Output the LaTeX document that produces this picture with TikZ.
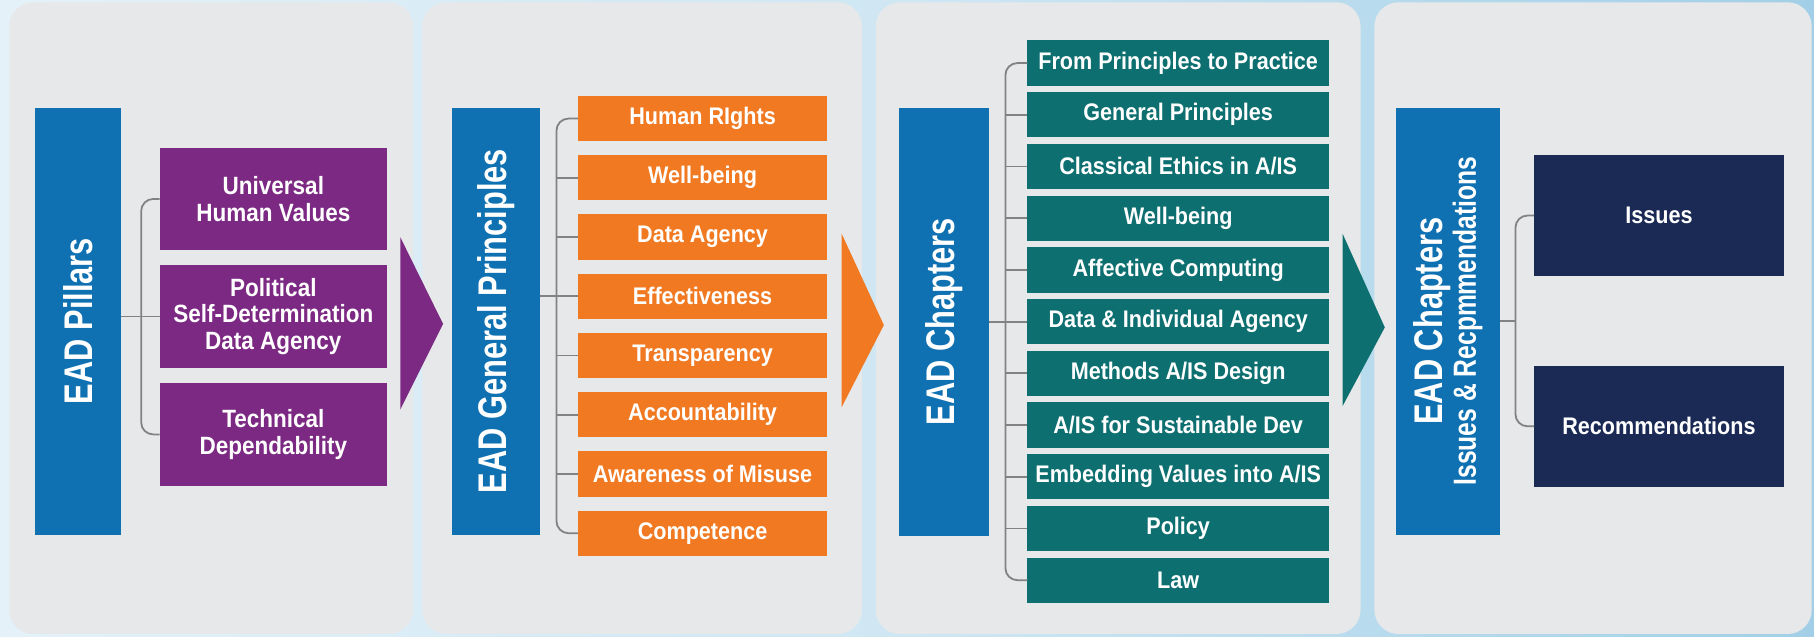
\documentclass[tikz,border=0pt]{standalone}
\usepackage{fontspec}
\setmainfont{Liberation Sans}
\newfontfamily\boxfont[FakeStretch=0.9]{Liberation Sans}
\newfontfamily\condfont[FakeStretch=0.77]{Liberation Sans}
\usetikzlibrary{calc}
\definecolor{bgL}{HTML}{E4F1F8}
\definecolor{bgM}{HTML}{CFE7F3}
\definecolor{bgR}{HTML}{A2CFE7}
\definecolor{panelc}{HTML}{E7E8EA}
\definecolor{bluec}{HTML}{0F71B1}
\definecolor{purplec}{HTML}{7B2982}
\definecolor{orangec}{HTML}{F07922}
\definecolor{tealc}{HTML}{0E6F70}
\definecolor{navyc}{HTML}{1A2A54}
\definecolor{linec}{HTML}{828282}
\begin{document}
\begin{tikzpicture}[x=0.5785pt,y=-0.5785pt,
  panel/.style={fill=panelc,rounded corners=12pt},
  label/.style={fill=bluec,text=white,rotate=90,inner sep=0pt,outer sep=0pt,
    font=\condfont\bfseries\fontsize{20}{22}\selectfont},
  pbox/.style={fill=purplec,text=white,inner sep=0pt,outer sep=0pt,align=center,
    minimum width=113.7pt,minimum height=51.2pt,
    font=\boxfont\bfseries\fontsize{12.5}{13.4}\selectfont},
  obox/.style={fill=orangec,text=white,inner sep=0pt,outer sep=0pt,
    minimum width=124.6pt,minimum height=22.6pt,
    font=\boxfont\bfseries\fontsize{12}{13}\selectfont},
  tbox/.style={fill=tealc,text=white,inner sep=0pt,outer sep=0pt,
    minimum width=150.8pt,minimum height=22.6pt,
    font=\boxfont\bfseries\fontsize{12}{13}\selectfont},
  nbox/.style={fill=navyc,text=white,inner sep=0pt,outer sep=0pt,
    minimum width=125pt,minimum height=60.2pt,
    font=\boxfont\bfseries\fontsize{12}{13}\selectfont},
  brk/.style={draw=linec,line width=0.9pt},
  tri/.style={draw=none}
]
\useasboundingbox (0,0) rectangle (1568,550);
\shade[left color=bgL,right color=bgR,middle color=bgM] (0,0) rectangle (1568,550);

% panels
\fill[panel] (8,2) rectangle (357,548);
\fill[panel] (365,2) rectangle (745,548);
\fill[panel] (757,2) rectangle (1176,548);
\fill[panel] (1188,2) rectangle (1566,548);

% ---------- panel 1
\node[label,minimum width=213.5pt,minimum height=43.4pt] (b1) at (67.5,277.5) {EAD Pillars};
\node[pbox] (p1) at (236.3,172) {Universal\\Human Values};
\node[pbox] (p2) at (236.3,273.5) {Political\\Self-Determination\\Data Agency};
\node[pbox] (p3) at (236.3,375.5) {Technical\\Dependability};
\draw[brk,rounded corners=6pt] (p1.west) -- ++(-16,0) -- ($(p3.west)+(-16,0)$) -- (p3.west);
\draw[brk] (b1.south |- p2.west) -- (p2.west);
\fill[purplec] (346,205) -- (383,280) -- (346,354) -- cycle;

% ---------- panel 2
\node[label,minimum width=213.5pt,minimum height=44pt] (b2) at (429,277.5) {EAD General Principles};
\foreach \t [count=\i] in {Human RIghts,Well-being,Data Agency,Effectiveness,Transparency,Accountability,Awareness of Misuse,Competence}
  \node[obox] (o\i) at (607.3,{102.5+51.2*(\i-1)}) {\t};
\draw[brk,rounded corners=6pt] (o1.west) -- ++(-18.6,0) -- ($(o8.west)+(-18.6,0)$) -- (o8.west);
\foreach \i in {2,...,7} \draw[brk] (o\i.west) -- ++(-18.6,0);
\draw[brk] (b2.south |- o4.west) -- (o4.west);
\fill[orangec] (727.5,202) -- (764,281) -- (727.5,352) -- cycle;

% ---------- panel 3
\node[label,minimum width=214pt,minimum height=44.8pt] (b3) at (815.75,278) {EAD Chapters};
\foreach \t [count=\i] in {From Principles to Practice,General Principles,Classical Ethics in A/IS,Well-being,Affective Computing,Data \& Individual Agency,Methods A/IS Design,A/IS for Sustainable Dev,Embedding Values into A/IS,Policy,Law}
  \node[tbox] (t\i) at (1018.4,{54.5+44.7*(\i-1)}) {\t};
\draw[brk,rounded corners=6pt] (t1.west) -- ++(-19,0) -- ($(t11.west)+(-19,0)$) -- (t11.west);
\foreach \i in {2,...,10} \draw[brk] (t\i.west) -- ++(-19,0);
\draw[brk] (b3.south |- t6.west) -- (t6.west);
\fill[tealc] (1160.5,202) -- (1197,283) -- (1160.5,351) -- cycle;

% ---------- panel 4
\node[label,minimum width=213.5pt,minimum height=52pt,align=center,
  font=\condfont\bfseries\fontsize{16}{15.3}\selectfont] (b4) at (1251.5,277.5)
  {{\fontsize{20}{20}\selectfont EAD Chapters}\\Issues \& Recpmmendations};
\node[nbox] (n1) at (1434,186.3) {Issues};
\node[nbox] (n2) at (1434,368.5) {Recommendations};
\coordinate (j4) at ($(n1.west)+(-16,0)$);
\draw[brk,rounded corners=6pt] (n1.west) -- (j4) -- ($(n2.west)+(-16,0)$) -- (n2.west);
\draw[brk] (b4.south) -- (b4.south -| j4);
\end{tikzpicture}
\end{document}
